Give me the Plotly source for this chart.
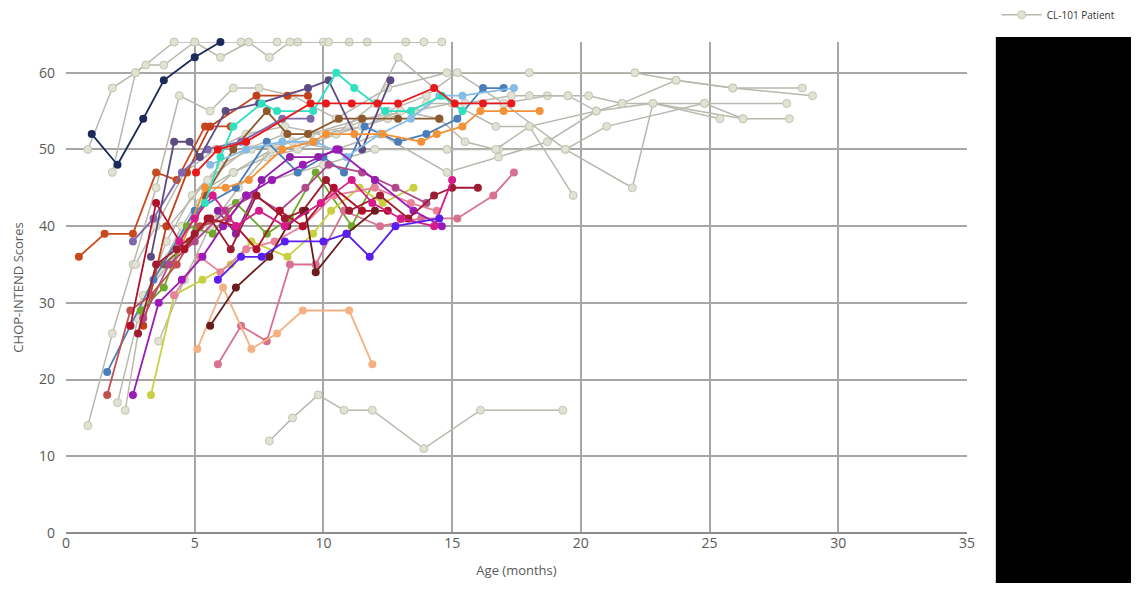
import plotly.graph_objects as go

# ---- CL-101 patients (grey) ----
g_a_age = [0.85, 1.8, 2.7, 4.2, 5.0, 6.8, 8.2, 9.0, 10.0, 11.0, 11.7, 13.2, 14.6]
g_a_score = [50, 58, 60, 64, 64, 64, 64, 64, 64, 64, 64, 64, 64]
g_b_age = [1.8, 2.7, 3.1, 3.8, 5.0, 6.0, 7.1, 7.9, 8.7, 10.2, 13.9]
g_b_score = [47, 60, 61, 61, 64, 62, 64, 62, 64, 64, 64]
g_c_age = [0.85, 1.8, 2.6, 3.5, 4.4, 5.6, 6.5, 7.5, 8.8, 10.5, 12.5, 14.8, 18.0, 22.1, 23.7, 25.9, 28.6]
g_c_score = [14, 26, 35, 45, 57, 55, 58, 58, 57, 54, 58, 60, 60, 60, 59, 58, 58]
g_d_age = [2.0, 2.8, 3.6, 4.5, 5.5, 6.5, 7.8, 9.0, 10.5, 12.0, 12.9, 15.0, 17.0, 18.7, 19.5, 20.3, 21.6, 24.8, 28.0]
g_d_score = [17, 28, 34, 40, 45, 47, 49, 50, 52, 56, 62, 56, 56, 57, 57, 57, 56, 56, 56]
g_e_age = [2.3, 3.0, 3.9, 4.9, 6.0, 7.2, 8.8, 10.5, 12.2, 14.8, 16.8, 18.7, 20.6, 22.8, 26.3, 28.1]
g_e_score = [16, 30, 38, 44, 48, 50, 51, 50, 52, 47, 49, 51, 55, 56, 54, 54]
g_f_age = [3.6, 4.6, 5.6, 6.7, 8.0, 9.5, 11.0, 12.5, 14.0, 15.2, 17.0, 19.4, 22.0, 22.8, 25.4]
g_f_score = [25, 33, 40, 45, 50, 52, 53, 55, 57, 60, 56, 50, 45, 56, 54]
g_g_age = [4.0, 5.2, 6.5, 8.0, 9.5, 11.5, 13.5, 15.0, 16.7, 18.0, 19.7]
g_g_score = [36, 43, 47, 50, 52, 54, 55, 56, 53, 53, 44]
g_h_age = [3.0, 4.5, 6.0, 8.0, 10.0, 12.0, 14.8, 16.8, 19.4, 21.0, 24.8, 26.3]
g_h_score = [31, 37, 42, 46, 48, 50, 50, 50, 50, 53, 56, 54]
g_i_age = [4.0, 5.5, 7.0, 8.5, 10.5, 12.5, 14.0, 15.5, 17.3, 18.0, 19.5, 20.6, 21.6, 23.7, 25.9, 29.0]
g_i_score = [40, 46, 50, 52, 52, 54, 56, 56, 57, 57, 57, 55, 56, 59, 58, 57]
g_j_age = [7.9, 8.8, 9.8, 10.8, 11.9, 13.9, 16.1, 19.3]
g_j_score = [12, 15, 18, 16, 16, 11, 16, 16]
g_k_age = [2.7, 3.5, 4.6, 5.8, 7.0, 8.5, 10.0, 11.5, 13.0, 14.5, 15.5, 16.7, 18.0, 20.6]
g_k_score = [35, 40, 47, 50, 52, 53, 52, 53, 55, 54, 51, 50, 53, 55]

# ---- natural history comparison patients (colours) ----
navy_age = [1.0, 2.0, 3.0, 3.8, 5.0, 6.0]
navy_score = [52, 48, 54, 59, 62, 64]
rust_age = [0.5, 1.5, 2.6, 3.5, 4.3, 5.4, 6.4]
rust_score = [36, 39, 39, 47, 46, 53, 53]
burnt_age = [3.0, 3.9, 4.7, 5.6, 7.4, 8.6, 9.4]
burnt_score = [27, 40, 47, 53, 57, 57, 57]
red_age = [5.05, 5.9, 7.0, 9.5, 10.1, 11.1, 12.1, 12.9, 14.3, 15.1, 16.2, 17.3]
red_score = [47, 50, 51, 56, 56, 56, 56, 56, 58, 56, 56, 56]
turq_age = [5.4, 6.0, 6.5, 7.6, 8.2, 9.6, 10.5, 11.2, 12.4, 13.4, 14.6, 15.4]
turq_score = [43, 49, 53, 56, 55, 55, 60, 58, 55, 55, 57, 55]
slate_age = [3.3, 4.2, 4.8, 5.2, 6.2, 7.5, 9.4, 10.2, 11.5, 12.6]
slate_score = [36, 51, 51, 49, 55, 56, 58, 59, 50, 59]
lav_age = [2.6, 3.4, 4.5, 5.5, 6.8, 8.4, 9.5]
lav_score = [38, 41, 47, 50, 51, 54, 54]
brown_age = [3.8, 4.8, 5.4, 6.5, 7.8, 8.6, 9.4, 10.6, 11.5, 12.9, 14.5]
brown_score = [35, 38, 44, 50, 55, 52, 52, 54, 54, 54, 54]
purple_age = [5.9, 6.6, 7.6, 8.7, 9.8, 10.6]
purple_score = [42, 39, 46, 49, 49, 50]
steel_age = [1.6, 2.5, 3.4, 5.0, 6.6, 7.8, 9.0, 10.0, 10.8, 11.6, 12.9, 14.0, 15.2, 16.2, 17.0]
steel_score = [21, 27, 33, 42, 45, 51, 47, 49, 47, 53, 51, 52, 54, 58, 58]
sky_age = [5.6, 7.0, 8.4, 9.7, 10.9, 12.2, 13.4, 14.5, 15.4, 17.4]
sky_score = [48, 50, 51, 51, 49, 52, 54, 57, 57, 58]
orange_age = [4.2, 5.4, 6.2, 7.1, 8.4, 9.6, 10.1, 11.2, 12.3, 13.8, 14.4, 15.4, 16.1, 17.0, 18.4]
orange_score = [35, 45, 45, 46, 50, 51, 52, 52, 52, 51, 52, 53, 55, 55, 55]
green_age = [2.9, 3.8, 4.7, 5.7, 6.6, 7.8, 8.7, 9.7, 11.1, 12.0]
green_score = [29, 32, 40, 39, 43, 39, 41, 47, 40, 46]
lime_age = [3.3, 4.2, 5.3, 6.4, 7.2, 8.6, 9.6, 10.3, 11.4, 12.3, 13.5]
lime_score = [18, 31, 33, 35, 38, 36, 39, 42, 45, 43, 45]
violet_age = [5.9, 6.8, 7.6, 8.5, 10.0, 10.9, 11.8, 12.8, 14.5]
violet_score = [33, 36, 36, 38, 38, 39, 36, 40, 41]
magenta_age = [4.4, 5.0, 5.7, 6.6, 7.5, 8.5, 9.9, 11.1, 11.9, 13.0, 14.3, 15.0]
magenta_score = [38, 41, 44, 40, 42, 40, 43, 46, 43, 41, 40, 46]
darkred_age = [2.8, 3.5, 4.3, 5.0, 5.6, 6.4, 7.4, 8.5, 9.2, 10.1, 11.0, 12.2, 13.3, 14.3, 15.0, 16.0]
darkred_score = [26, 35, 37, 39, 41, 37, 44, 41, 42, 46, 42, 44, 41, 44, 45, 45]
crimson_age = [2.5, 3.5, 4.6, 5.5, 6.6, 7.4, 8.3, 9.2, 10.4, 11.5, 12.5]
crimson_score = [27, 43, 37, 41, 40, 37, 42, 40, 45, 42, 42]
brick_age = [1.6, 2.5, 3.3, 4.3, 5.2, 6.3, 7.0]
brick_score = [18, 29, 31, 35, 40, 41, 44]
orchid_age = [2.6, 3.6, 4.5, 5.3, 6.1, 7.0, 8.0, 9.2, 10.5, 12.0, 13.5, 14.6]
orchid_score = [18, 30, 33, 36, 40, 44, 46, 48, 50, 46, 42, 40]
maroon_age = [5.6, 6.6, 7.9, 8.6, 9.3, 9.7, 10.9, 12.0]
maroon_score = [27, 32, 36, 40, 42, 34, 39, 42]
pink_age = [5.9, 6.8, 7.8, 8.7, 9.7, 10.8, 12.2, 13.8, 15.2, 16.6, 17.4]
pink_score = [22, 27, 25, 35, 35, 42, 40, 41, 41, 44, 47]
rose_age = [4.2, 5.2, 6.0, 7.0, 8.1, 9.2, 10.4, 12.0, 13.4, 14.4]
rose_score = [31, 36, 34, 37, 38, 40, 44, 45, 43, 42]
peach_age = [5.1, 6.1, 7.2, 8.2, 9.2, 11.0, 11.9]
peach_score = [24, 32, 24, 26, 29, 29, 22]
plum_age = [3.0, 4.0, 5.0, 6.2, 7.3, 8.3, 9.3, 10.2, 11.5, 12.8, 14.0]
plum_score = [28, 35, 38, 42, 44, 42, 45, 48, 47, 45, 43]

x_ticks = [0, 5, 10, 15, 20, 25, 30, 35]
y_ticks = [0, 10, 20, 30, 40, 50, 60]

grey_series = [
    (g_a_age, g_a_score), (g_b_age, g_b_score), (g_c_age, g_c_score),
    (g_d_age, g_d_score), (g_e_age, g_e_score), (g_f_age, g_f_score),
    (g_g_age, g_g_score), (g_h_age, g_h_score), (g_i_age, g_i_score),
    (g_j_age, g_j_score), (g_k_age, g_k_score),
]

colour_series = [
    (rust_age, rust_score, "#c84a1c"),
    (burnt_age, burnt_score, "#c0401a"),
    (brown_age, brown_score, "#8c5a2e"),
    (lav_age, lav_score, "#7d68ad"),
    (slate_age, slate_score, "#5c4a80"),
    (steel_age, steel_score, "#4a7ebb"),
    (sky_age, sky_score, "#86bce8"),
    (orange_age, orange_score, "#f39237"),
    (purple_age, purple_score, "#8e1fa6"),
    (green_age, green_score, "#6fa82a"),
    (lime_age, lime_score, "#c8d040"),
    (plum_age, plum_score, "#b04a8a"),
    (rose_age, rose_score, "#e8829a"),
    (pink_age, pink_score, "#d9708f"),
    (peach_age, peach_score, "#f4b183"),
    (brick_age, brick_score, "#c0504d"),
    (orchid_age, orchid_score, "#9c1ab5"),
    (crimson_age, crimson_score, "#b0102a"),
    (darkred_age, darkred_score, "#9e1b32"),
    (maroon_age, maroon_score, "#6b1c1c"),
    (magenta_age, magenta_score, "#d81b8c"),
    (violet_age, violet_score, "#5a1ff0"),
    (turq_age, turq_score, "#30e0c0"),
    (red_age, red_score, "#e8191a"),
    (navy_age, navy_score, "#1b2a5a"),
]

fig = go.Figure()

for i, (ages, scores) in enumerate(grey_series):
    fig.add_trace(go.Scatter(
        x=ages, y=scores, mode="lines+markers", cliponaxis=False,
        name="CL-101 Patient", showlegend=(i == 0), legendgroup="cl101",
        line=dict(color="#b8b8ae", width=1.5),
        marker=dict(size=8, color="#e2e2d2", line=dict(color="#c4c4b4", width=1)),
    ))

for ages, scores, colour in colour_series:
    fig.add_trace(go.Scatter(
        x=ages, y=scores, mode="lines+markers", showlegend=False, cliponaxis=False,
        line=dict(color=colour, width=1.8),
        marker=dict(size=8, color=colour),
    ))

# solid panel at the right edge
fig.add_shape(type="rect", xref="paper", yref="paper",
              x0=1.032, x1=1.182, y0=-0.102, y1=1.010,
              fillcolor="black", line=dict(width=0), layer="above")

axis_font = dict(family="Open Sans, Liberation Sans, sans-serif", size=14, color="#595959")

fig.update_layout(
    width=1136, height=604,
    margin=dict(l=66, r=169, t=42, b=71, autoexpand=False),
    paper_bgcolor="white", plot_bgcolor="white",
    showlegend=True,
    legend=dict(x=1.033, xanchor="left", y=1.085, yanchor="top",
                font=dict(family="Open Sans, sans-serif", size=10, color="#333333"),
                bgcolor="rgba(0,0,0,0)", itemwidth=40),
    xaxis=dict(range=[0, 35], tickvals=x_ticks, showgrid=True, gridcolor="#a6a6a6",
               gridwidth=2, zeroline=False, showline=False, tickfont=axis_font,
               ticks="", title=dict(text="Age (months)", font=dict(family="Open Sans, sans-serif", size=13, color="#595959"), standoff=14),
               fixedrange=True),
    yaxis=dict(range=[0, 64], tickvals=y_ticks, showgrid=True, gridcolor="#a6a6a6",
               gridwidth=2, zeroline=True, zerolinecolor="#8c8c8c", zerolinewidth=2,
               showline=False, tickfont=axis_font, ticks="", ticklabelstandoff=10,
               title=dict(text="CHOP-INTEND Scores", font=dict(family="Open Sans, sans-serif", size=13, color="#595959"), standoff=12),
               fixedrange=True),
)

fig.write_html("out.html")
